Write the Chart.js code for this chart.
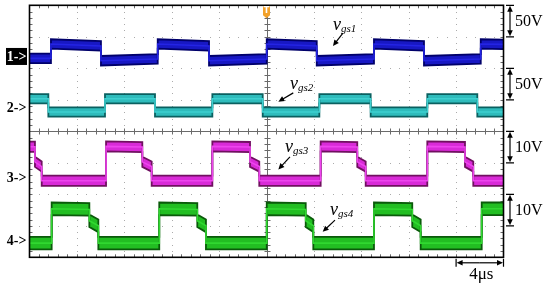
<!DOCTYPE html>
<html>
<head>
<meta charset="utf-8">
<script src="https://cdn.jsdelivr.net/npm/chart.js@4.4.0/dist/chart.umd.min.js"></script>
<style>
html,body{margin:0;padding:0;background:#fff}
#wrap{width:550px;height:287px}
</style>
</head>
<body>
<div id="wrap"><canvas id="scope" width="550" height="287"></canvas></div>
<script>
/* 4-channel scope capture: gate voltages vgs1..vgs4 */

// scope settings
const chLabels = ['1->', '2->', '3->', '4->'];
const chNames = ['gs1', 'gs2', 'gs3', 'gs4'];
const chVoltsPerDiv = [50, 50, 10, 10];
const chOffsetDiv = [2.36, 0.74, -1.51, -3.48];
const scaleText = ['50V', '50V', '10V', '10V'];
const timeTicks = [0, 4, 8, 12, 16, 20, 24, 28, 32, 36, 40]; // us, 4us/div
const divTicks = [-4, -3, -2, -1, 0, 1, 2, 3, 4];

// waveforms: time (us) and voltage (V)
const ch1Time = [0, 1.81, 1.81, 6.03, 6.03, 10.82, 10.82, 15.15, 15.15, 20.02, 20.02, 24.24, 24.24, 29.07, 29.07, 33.29, 33.29, 38.08, 38.08, 40];
const ch1Volt = [-2.2, -2.2, 20.6, 17.5, -6.0, -3.2, 20.6, 17.5, -6.0, -3.2, 20.6, 17.5, -6.0, -3.2, 20.6, 17.5, -6.0, -3.2, 20.6, 20.0];

const ch2Time = [0, 1.59, 1.59, 6.37, 6.37, 10.59, 10.59, 15.43, 15.43, 19.68, 19.68, 24.46, 24.46, 28.79, 28.79, 33.57, 33.57, 37.79, 37.79, 40];
const ch2Volt = [14.6, 14.6, -6.3, -6.3, 14.6, 14.6, -6.3, -6.3, 14.6, 14.6, -6.3, -6.3, 14.6, 14.6, -6.3, -6.3, 14.6, 14.6, -6.3, -6.3];

const ch3Time = [0, 0.46, 0.46, 1.03, 1.03, 6.46, 6.46, 9.52, 9.52, 10.31, 10.31, 15.43, 15.43, 18.61, 18.61, 19.39, 19.39, 24.57, 24.57, 27.66, 27.66, 28.37, 28.37, 33.57, 33.57, 36.75, 36.75, 37.45, 37.45, 40];
const ch3Volt = [10.2, 10.2, 5.4, 3.9, -0.6, -0.6, 10.3, 10.1, 5.4, 3.9, -0.6, -0.6, 10.3, 10.1, 5.4, 3.9, -0.6, -0.6, 10.3, 10.1, 5.4, 3.9, -0.6, -0.6, 10.3, 10.1, 5.4, 3.9, -0.6, -0.6];

const ch4Time = [0, 1.87, 1.87, 5.05, 5.05, 5.81, 5.81, 10.95, 10.95, 14.16, 14.16, 14.89, 14.89, 20.02, 20.02, 23.31, 23.31, 23.95, 23.95, 29.07, 29.07, 32.30, 32.30, 33.01, 33.01, 38.16, 38.16, 40];
const ch4Volt = [-0.7, -0.7, 10.2, 10.0, 6.4, 4.8, -0.7, -0.7, 10.2, 10.0, 6.4, 4.8, -0.7, -0.7, 10.2, 10.0, 6.4, 4.8, -0.7, -0.7, 10.2, 10.0, 6.4, 4.8, -0.7, -0.7, 10.2, 10.2];

// label anchors in (us, div): text pos, arrow tail, arrow head
const noteText = [[25.61, 3.22], [21.98, 1.33], [21.56, -0.65], [25.36, -2.66]];
const noteTail = [[26.45, 3.12], [22.26, 1.22], [21.98, -0.81], [25.78, -2.82]];
const noteHead = [[25.61, 2.71], [21.00, 0.94], [21.00, -1.21], [24.74, -3.19]];

// styles
const traceFill = ['#1818c4', '#2fbcbc', '#d92ad8', '#22be22'];
const traceEdge = ['#00006a', '#0a6060', '#701060', '#0a5a0a'];
const traceLine = ['#2424e4', '#3ed0d0', '#ee44ee', '#30d830'];
const bandHalf = [0.15, 0.145, 0.16, 0.2];

const allTime = [ch1Time, ch2Time, ch3Time, ch4Time];
const allVolt = [ch1Volt, ch2Volt, ch3Volt, ch4Volt];

function toDiv(ch, shift){
  return allTime[ch].map((t, i) => ({x: t, y: chOffsetDiv[ch] + allVolt[ch][i] / chVoltsPerDiv[ch] + shift}));
}

const datasets = [];
for(let ch = 0; ch < 4; ch++){
  datasets.push({ label: 'v' + chNames[ch], data: toDiv(ch, 0), borderColor: traceLine[ch], borderWidth: 1.6, fill: false });
  datasets.push({ label: 'hi' + ch, data: toDiv(ch, bandHalf[ch]), borderColor: traceEdge[ch], borderWidth: 1.8, fill: {target: datasets.length + 1}, backgroundColor: traceFill[ch] });
  datasets.push({ label: 'lo' + ch, data: toDiv(ch, -bandHalf[ch]), borderColor: traceEdge[ch], borderWidth: 1.8, fill: false });
}

function arrow(ctx, x1, y1, x2, y2, len, half){
  const a = Math.atan2(y2 - y1, x2 - x1);
  ctx.beginPath();
  ctx.moveTo(x1, y1);
  ctx.lineTo(x2 - Math.cos(a) * len * 0.8, y2 - Math.sin(a) * len * 0.8);
  ctx.stroke();
  ctx.beginPath();
  ctx.moveTo(x2, y2);
  ctx.lineTo(x2 - Math.cos(a) * len - Math.sin(a) * half, y2 - Math.sin(a) * len + Math.cos(a) * half);
  ctx.lineTo(x2 - Math.cos(a) * len + Math.sin(a) * half, y2 - Math.sin(a) * len - Math.cos(a) * half);
  ctx.closePath();
  ctx.fill();
}

const scopeDecor = {
  id: 'scopeDecor',
  beforeDraw(chart){
    const ctx = chart.ctx, xs = chart.scales.x, ys = chart.scales.y, ca = chart.chartArea;
    ctx.save();
    // dotted grid
    ctx.fillStyle = '#ababab';
    timeTicks.forEach(t => {
      if(t === 0 || t === 40 || t === 20) return;
      const x = Math.round(xs.getPixelForValue(t));
      for(let k = 1; k < 40; k++){
        const y = Math.round(ys.getPixelForValue(-4 + k * 0.2));
        ctx.fillRect(x, y, 1, 1);
      }
    });
    divTicks.forEach(d => {
      if(d === -4 || d === 4 || d === 0) return;
      const y = Math.round(ys.getPixelForValue(d));
      for(let k = 1; k < 50; k++){
        const x = Math.round(xs.getPixelForValue(k * 0.8));
        ctx.fillRect(x, y, 1, 1);
      }
    });
    // centre cross with minor ticks
    const cx = Math.round(xs.getPixelForValue(20)) + 0.5;
    const cy = Math.round(ys.getPixelForValue(0)) + 0.5;
    ctx.strokeStyle = '#6a6a6a';
    ctx.lineWidth = 1;
    ctx.beginPath();
    ctx.moveTo(cx, ca.top); ctx.lineTo(cx, ca.bottom);
    ctx.moveTo(ca.left, cy); ctx.lineTo(ca.right, cy);
    for(let k = 1; k < 50; k++){
      const x = Math.round(xs.getPixelForValue(k * 0.8)) + 0.5;
      ctx.moveTo(x, cy - 3); ctx.lineTo(x, cy + 3);
      ctx.moveTo(x, ca.bottom); ctx.lineTo(x, ca.bottom - 3);
      ctx.moveTo(x, ca.top); ctx.lineTo(x, ca.top + 3);
    }
    for(let k = 1; k < 40; k++){
      const y = Math.round(ys.getPixelForValue(-4 + k * 0.2)) + 0.5;
      ctx.moveTo(cx - 3, y); ctx.lineTo(cx + 3, y);
      ctx.moveTo(ca.left, y); ctx.lineTo(ca.left + 3, y);
      ctx.moveTo(ca.right, y); ctx.lineTo(ca.right - 3, y);
    }
    ctx.stroke();
    ctx.restore();
  },
  afterDatasetsDraw(chart){
    const ctx = chart.ctx, xs = chart.scales.x, ys = chart.scales.y, ca = chart.chartArea;
    ctx.save();
    // frame
    ctx.strokeStyle = '#000';
    ctx.lineWidth = 1.6;
    ctx.strokeRect(ca.left, ca.top, ca.right - ca.left, ca.bottom - ca.top);

    // channel markers on the left
    ctx.font = 'bold 14px "Liberation Serif"';
    ctx.textAlign = 'right';
    ctx.textBaseline = 'middle';
    chLabels.forEach((lab, i) => {
      const y = ys.getPixelForValue(chOffsetDiv[i]);
      if(i === 0){
        ctx.fillStyle = '#000';
        ctx.fillRect(ca.left - 23.5, y - 9, 21, 17);
        ctx.fillStyle = '#fff';
      } else {
        ctx.fillStyle = '#000';
      }
      ctx.fillText(lab, ca.left - 3, y);
    });

    // volts/div bars on the right
    ctx.fillStyle = '#000';
    ctx.strokeStyle = '#000';
    ctx.lineWidth = 1.2;
    const bx = ca.right + 6.5;
    ctx.font = '16px "Liberation Serif"';
    ctx.textAlign = 'left';
    ctx.textBaseline = 'middle';
    scaleText.forEach((txt, i) => {
      const top = 4 - 2 * i;
      const y1 = ys.getPixelForValue(top), y2 = ys.getPixelForValue(top - 1);
      ctx.beginPath();
      ctx.moveTo(bx - 4, y1); ctx.lineTo(bx + 4, y1);
      ctx.moveTo(bx - 4, y2); ctx.lineTo(bx + 4, y2);
      ctx.stroke();
      arrow(ctx, bx, (y1 + y2) / 2, bx, y1 + 0.5, 6, 2.8);
      arrow(ctx, bx, (y1 + y2) / 2, bx, y2 - 0.5, 6, 2.8);
      ctx.fillText(txt, ca.right + 11.5, (y1 + y2) / 2 + 1);
    });

    // time scale bar
    const tx1 = xs.getPixelForValue(36), tx2 = xs.getPixelForValue(40);
    const ty = ca.bottom + 5.5;
    ctx.beginPath();
    ctx.moveTo(tx1, ty - 4); ctx.lineTo(tx1, ty + 4);
    ctx.moveTo(tx2, ty - 4); ctx.lineTo(tx2, ty + 4);
    ctx.stroke();
    arrow(ctx, (tx1 + tx2) / 2, ty, tx1 + 0.5, ty, 6, 2.8);
    arrow(ctx, (tx1 + tx2) / 2, ty, tx2 - 0.5, ty, 6, 2.8);
    ctx.font = '17px "Liberation Serif"';
    ctx.textAlign = 'center';
    ctx.textBaseline = 'alphabetic';
    ctx.fillText('4\u03bcs', (tx1 + tx2) / 2 + 1.5, ca.bottom + 22);

    // vgs labels with arrows
    ctx.textAlign = 'left';
    chNames.forEach((nm, i) => {
      const x = xs.getPixelForValue(noteText[i][0]);
      const y = ys.getPixelForValue(noteText[i][1]);
      ctx.font = 'italic 18px "Liberation Serif"';
      ctx.fillText('v', x, y);
      const w = ctx.measureText('v').width;
      ctx.font = 'italic 11px "Liberation Serif"';
      ctx.fillText(nm, x + w, y + 2);
      ctx.lineWidth = 1.2;
      arrow(ctx, xs.getPixelForValue(noteTail[i][0]), ys.getPixelForValue(noteTail[i][1]),
            xs.getPixelForValue(noteHead[i][0]), ys.getPixelForValue(noteHead[i][1]), 6, 2.8);
    });

    // trigger marker
    const tgx = xs.getPixelForValue(20);
    ctx.fillStyle = '#f2a12a';
    ctx.beginPath();
    ctx.moveTo(tgx - 3.5, ca.top + 1);
    ctx.lineTo(tgx + 3.5, ca.top + 1);
    ctx.lineTo(tgx + 3.5, ca.top + 10);
    ctx.lineTo(tgx, ca.top + 13);
    ctx.lineTo(tgx - 3.5, ca.top + 10);
    ctx.closePath();
    ctx.fill();
    ctx.fillStyle = '#fff';
    ctx.font = 'bold 8px "DejaVu Sans"';
    ctx.textAlign = 'center';
    ctx.textBaseline = 'middle';
    ctx.fillText('T', tgx, ca.top + 6);
    ctx.restore();
  }
};

new Chart(document.getElementById('scope').getContext('2d'), {
  type: 'line',
  data: { datasets: datasets },
  options: {
    responsive: false,
    animation: false,
    events: [],
    layout: { padding: { left: 29.5, right: 46.5, top: 5.3, bottom: 29.7 } },
    elements: { point: { radius: 0 }, line: { tension: 0 } },
    scales: {
      x: { type: 'linear', min: 0, max: 40, display: false },
      y: { type: 'linear', min: -4, max: 4, display: false }
    },
    plugins: {
      legend: { display: false },
      tooltip: { enabled: false },
      filler: { drawTime: 'beforeDatasetsDraw' }
    }
  },
  plugins: [scopeDecor]
});
</script>
</body>
</html>
